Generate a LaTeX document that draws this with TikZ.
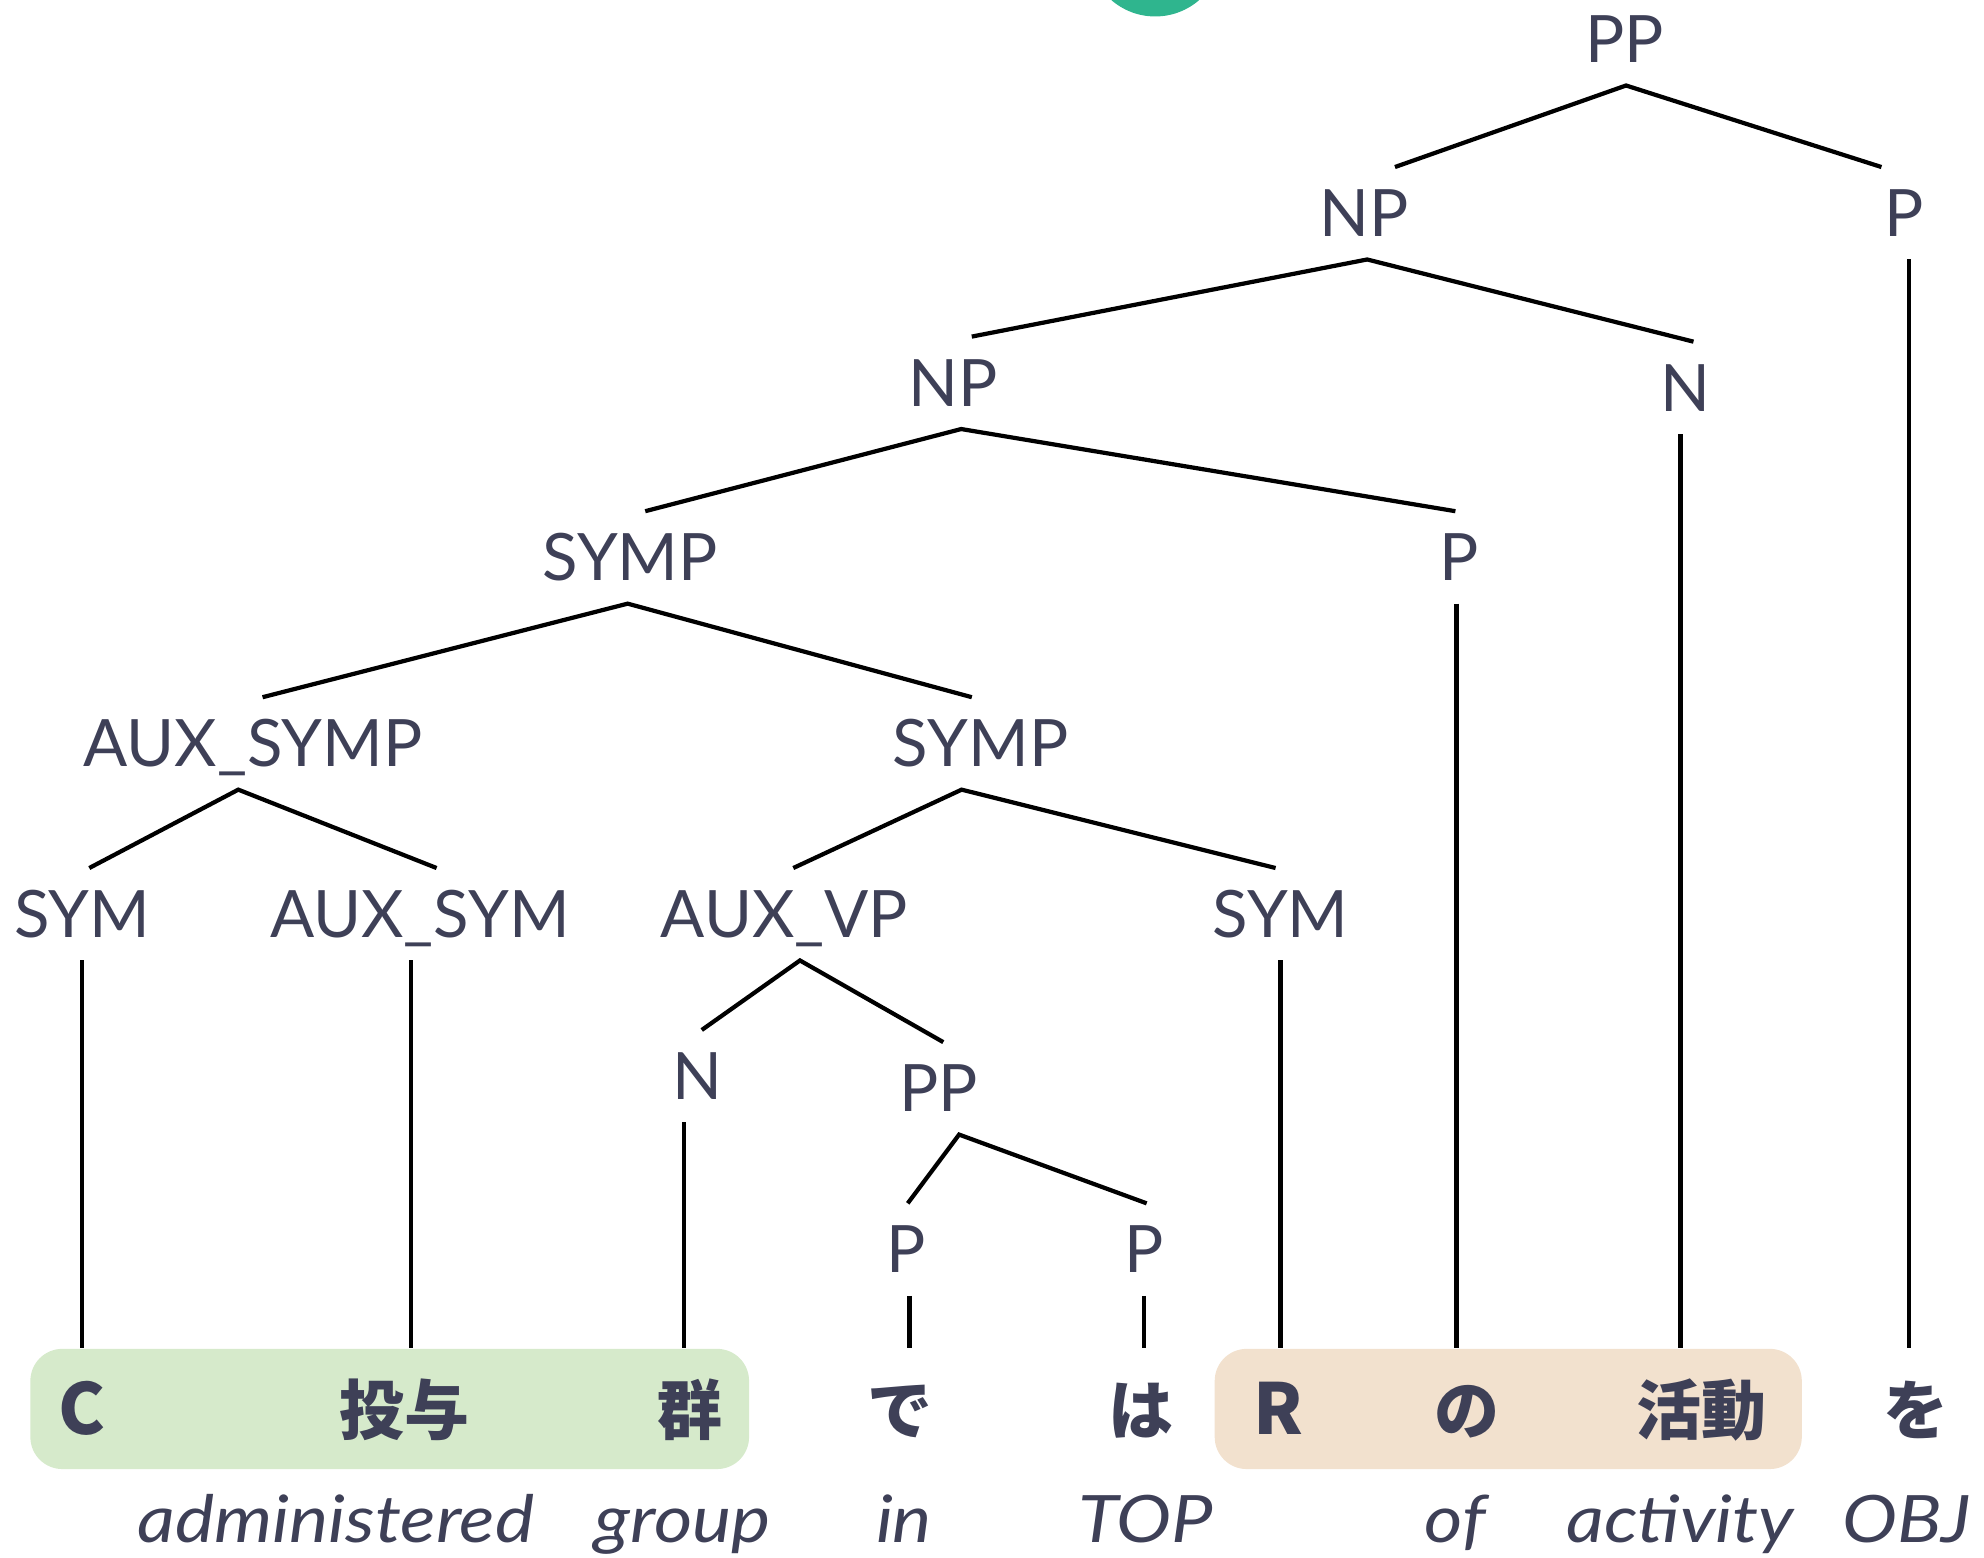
\documentclass[tikz,border=0pt]{standalone}
\usepackage{fontspec}
\usepackage{tikz}
\usetikzlibrary{calc}
\setmainfont{Lato}
\newfontfamily\jpfont{Noto Sans CJK JP}
\newfontfamily\glossfont{Lato}[FakeStretch=1.13]
\definecolor{ink}{RGB}{62,64,87}
\definecolor{hlgreen}{RGB}{214,234,203}
\definecolor{hlorange}{RGB}{242,225,206}
\definecolor{logogreen}{RGB}{47,181,142}
\tikzset{
  cat/.style={font=\fontsize{18.6}{22}\selectfont, text=ink, anchor=base,
    inner xsep=0pt, inner ysep=6.3pt, text height=13.3pt, text depth=0pt},
  word/.style={font=\fontsize{18.5}{22}\selectfont\jpfont\bfseries, text=ink, anchor=base,
    inner sep=0pt, text height=24.5pt, text depth=0pt},
  latinword/.style={word, font=\fontsize{20}{22}\selectfont\jpfont\bfseries},
  gloss/.style={font=\fontsize{18.6}{22}\selectfont\glossfont\itshape, text=ink,
    anchor=base, inner sep=0pt},
  edge/.style={line width=1.2pt, black, line join=miter},
  hlbox/.style={rounded corners=0.32cm}
}

\begin{document}
\begin{tikzpicture}[x=0.12653mm, y=-0.12653mm]
  \useasboundingbox (0,0) rectangle (1568,1231);
  % logo piece cut by the top edge
  \begin{scope}
    \clip (0,0) rectangle (1568,1231);
    \fill[logogreen] (913,-40) circle (53);
  \end{scope}

  % highlighted spans
  \fill[hlbox, hlgreen]  (24,1066) rectangle (592,1161);
  \fill[hlbox, hlorange] (960,1066) rectangle (1424,1161);

  % categories
  \node[cat] (pp0)     at (1284,49.5)  {PP};
  \node[cat] (np1)     at (1078,187)   {NP};
  \node[cat] (p1)      at (1505,187)   {P};
  \node[cat] (np2)     at (753,321)    {NP};
  \node[cat] (n1)      at (1332,325)   {N};
  \node[cat] (symp1)   at (498,459)    {SYMP};
  \node[cat] (p2)      at (1153,459)   {P};
  \node[cat] (auxsymp) at (200,606)    {AUX\_SYMP};
  \node[cat] (symp2)   at (775,606)    {SYMP};
  \node[cat] (sym1)    at (65,741)     {SYM};
  \node[cat] (auxsym)  at (332,741)    {AUX\_SYM};
  \node[cat] (auxvp)   at (620,741)    {AUX\_VP};
  \node[cat] (sym2)    at (1012,741)   {SYM};
  \node[cat] (n2)      at (551,869)    {N};
  \node[cat] (pp1)     at (741.6,878.6) {PP};
  \node[cat] (p3)      at (716,1006)   {P};
  \node[cat] (p4)      at (904,1006)   {P};

  % words
  \node[latinword] (wc)       at (65,1134)   {C};
  \node[word]      (wtouyo)   at (320,1134)  {投与};
  \node[word]      (wgun)     at (545,1134)  {群};
  \node[word]      (wde)      at (711,1134)  {で};
  \node[word]      (wha)      at (902,1134)  {は};
  \node[latinword] (wr)       at (1010,1134) {R};
  \node[word]      (wno)      at (1159,1134) {の};
  \node[word]      (wkatsudo) at (1345,1134) {活動};
  \node[word]      (wwo)      at (1514,1134) {を};

  % glosses
  \node[gloss] (gadmin) at (265.5,1219) {administered};
  \node[gloss] (ggroup) at (539.5,1219) {group};
  \node[gloss] (gin)    at (714.5,1219) {in};
  \node[gloss] (gtop)   at (905.5,1219) {TOP};
  \node[gloss] (gof)    at (1150,1219)  {of};
  \node[gloss] (gact)   at (1328,1219)  {activity};
  \node[gloss] (gobj)   at (1507,1219)  {OBJ};

  % branches
  \draw[edge] ([xshift=8.8pt]np1.north) -- ([xshift=0.4pt]pp0.south) -- ([xshift=-6.5pt]p1.north);
  \draw[edge] ([xshift=5.4pt]np2.north) -- ([xshift=0.9pt]np1.south) -- ([xshift=2.3pt]n1.north);
  \draw[edge] ([xshift=4.3pt]symp1.north) -- ([xshift=2.4pt]np2.south) -- ([xshift=-1pt]p2.north);
  \draw[edge] ([xshift=2.7pt]auxsymp.north) -- ([xshift=-0.7pt]symp1.south) -- ([xshift=-2.5pt]symp2.north);
  \draw[edge] ([xshift=2pt]sym1.north) -- ([xshift=-4.2pt]auxsymp.south) -- ([xshift=4.7pt]auxsym.north);
  \draw[edge] ([xshift=2.5pt]auxvp.north) -- ([xshift=-5.4pt]symp2.south) -- ([xshift=-1.4pt]sym2.north);
  \draw[edge] ([xshift=1.3pt]n2.north) -- ([xshift=4.4pt]auxvp.south) -- ([xshift=1.4pt]pp1.north);
  \draw[edge] ([xshift=0.5pt]p3.north) -- ([xshift=5.9pt]pp1.south) -- ([xshift=0.8pt]p4.north);

  % leaves down to the words
  \draw[edge] (sym1.south) -- (sym1.south |- wc.north);
  \draw[edge] ([xshift=-2.5pt]auxsym.south) -- ([xshift=-2.5pt]auxsym.south |- wtouyo.north);
  \draw[edge] ([xshift=-3.7pt]n2.south) -- ([xshift=-3.7pt]n2.south |- wgun.north);
  \draw[edge] ([xshift=1pt]p3.south) -- ([xshift=1pt]p3.south |- wde.north);
  \draw[edge] (p4.south) -- (p4.south |- wha.north);
  \draw[edge] (sym2.south) -- (sym2.south |- wr.north);
  \draw[edge] ([xshift=-0.7pt]p2.south) -- ([xshift=-0.7pt]p2.south |- wno.north);
  \draw[edge] ([xshift=-1.4pt]n1.south) -- ([xshift=-1.4pt]n1.south |- wkatsudo.north);
  \draw[edge] ([xshift=1.3pt]p1.south) -- ([xshift=1.3pt]p1.south |- wwo.north);
\end{tikzpicture}
\end{document}
